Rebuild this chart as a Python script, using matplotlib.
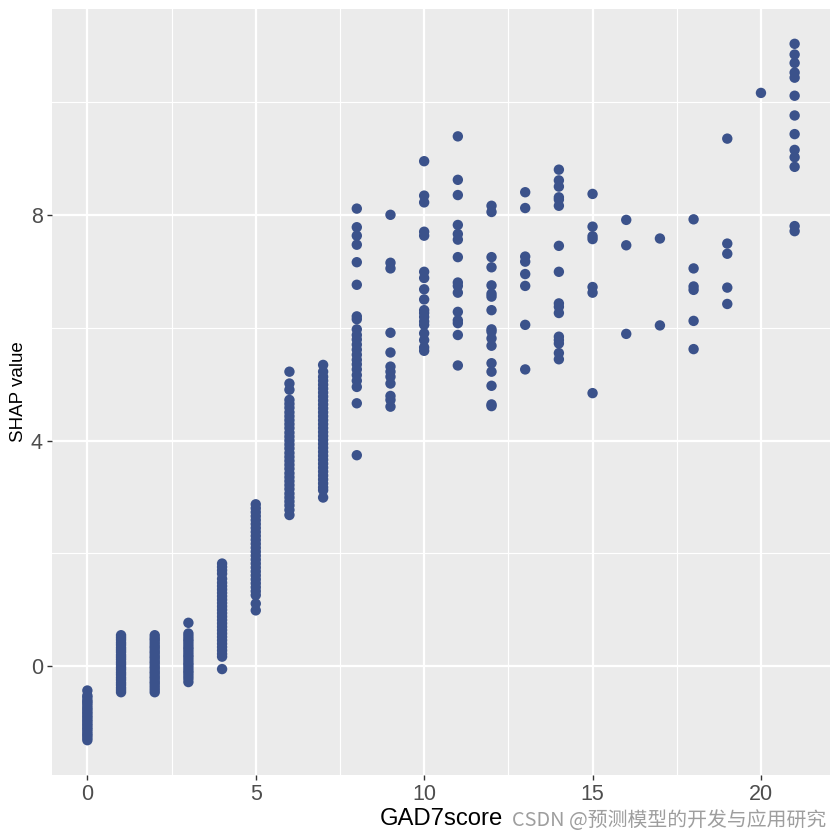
import matplotlib
matplotlib.use("Agg")
import matplotlib.pyplot as plt
from matplotlib.ticker import FixedLocator

# ---- data: SHAP value of GAD7score for each observed score ----
s0 = [-0.43, -0.52, -0.55, -0.6, -0.63, -0.66, -0.7, -0.74, -0.77, -0.81, -0.84, -0.88,
      -0.91, -0.95, -0.98, -1.02, -1.05, -1.09, -1.12, -1.16, -1.2, -1.23, -1.27, -1.31]
s1 = [0.55, 0.51, 0.47, 0.42, 0.38, 0.33, 0.29, 0.25, 0.2, 0.16, 0.12, 0.07, 0.03,
      -0.02, -0.06, -0.11, -0.15, -0.2, -0.24, -0.29, -0.33, -0.38, -0.42, -0.46]
s2 = [0.55, 0.5, 0.46, 0.41, 0.36, 0.32, 0.27, 0.23, 0.18, 0.14, 0.09, 0.05, 0.0,
      -0.04, -0.09, -0.13, -0.18, -0.22, -0.27, -0.31, -0.36, -0.41, -0.46]
s3 = [0.77, 0.58, 0.53, 0.48, 0.44, 0.39, 0.34, 0.3, 0.25, 0.2, 0.16, 0.11, 0.06, 0.02,
      -0.03, -0.08, -0.12, -0.17, -0.22, -0.28]
s4 = [1.82, 1.76, 1.7, 1.64, 1.55, 1.48, 1.42, 1.36, 1.3, 1.24, 1.18, 1.12, 1.06, 1.0,
      0.94, 0.88, 0.82, 0.76, 0.7, 0.64, 0.58, 0.52, 0.46, 0.4, 0.34, 0.28, 0.22, 0.17, -0.05]
s5 = [2.87, 2.8, 2.73, 2.66, 2.59, 2.52, 2.45, 2.38, 2.31, 2.24, 2.17, 2.1, 2.03, 1.96,
      1.89, 1.82, 1.75, 1.68, 1.61, 1.54, 1.47, 1.4, 1.33, 1.26, 1.11, 0.99]
s6 = [5.22, 5.01, 4.9, 4.72, 4.65, 4.58, 4.5, 4.43, 4.36, 4.29, 4.22, 4.14, 4.07, 4.0,
      3.93, 3.86, 3.78, 3.71, 3.64, 3.57, 3.5, 3.42, 3.35, 3.28, 3.21, 3.14, 3.06, 2.99,
      2.92, 2.85, 2.77, 2.68]
s7 = [5.34, 5.22, 5.13, 5.06, 4.99, 4.92, 4.85, 4.78, 4.71, 4.64, 4.57, 4.5, 4.43, 4.36,
      4.29, 4.22, 4.15, 4.08, 4.01, 3.94, 3.87, 3.8, 3.73, 3.66, 3.59, 3.52, 3.45, 3.38,
      3.31, 3.24, 3.17, 3.12, 2.99]
s8 = [8.11, 7.78, 7.63, 7.47, 7.16, 6.76, 6.2, 6.15, 5.97, 5.87, 5.79, 5.7, 5.61, 5.52,
      5.43, 5.35, 5.26, 5.16, 5.06, 4.95, 4.66, 3.74]
s9 = [8.0, 7.15, 7.05, 5.91, 5.56, 5.31, 5.22, 5.13, 5.01, 4.79, 4.72, 4.6]
s10 = [8.95, 8.34, 8.22, 7.7, 7.63, 6.99, 6.88, 6.68, 6.5, 6.31, 6.26, 6.19, 6.11, 6.05,
       5.9, 5.78, 5.65, 5.59]
s11 = [9.39, 8.62, 8.35, 7.82, 7.66, 7.56, 7.25, 6.8, 6.74, 6.62, 6.28, 6.13, 6.08, 5.87, 5.33]
s12 = [8.16, 8.05, 7.25, 7.07, 6.75, 6.6, 6.55, 6.31, 5.97, 5.93, 5.81, 5.68, 5.37, 5.22,
       4.97, 4.64, 4.61]
s13 = [8.4, 8.12, 7.26, 7.17, 6.95, 6.74, 6.05, 5.26]
s14 = [8.8, 8.61, 8.5, 8.31, 8.27, 8.16, 7.45, 6.99, 6.43, 6.37, 6.26, 5.84, 5.78, 5.72,
       5.55, 5.44]
s15 = [8.37, 7.79, 7.62, 7.57, 6.72, 6.62, 4.84]
s16 = [7.91, 7.46, 5.89]
s17 = [7.58, 6.04]
s18 = [7.92, 7.05, 6.73, 6.67, 6.12, 5.62]
s19 = [9.35, 7.49, 7.31, 6.71, 6.42]
s20 = [10.16]
s21 = [11.03, 10.84, 10.69, 10.52, 10.43, 10.11, 9.76, 9.43, 9.15, 9.02, 8.85, 7.8, 7.71]

scores = list(range(22))
shap_lists = [s0, s1, s2, s3, s4, s5, s6, s7, s8, s9, s10, s11, s12, s13, s14, s15,
              s16, s17, s18, s19, s20, s21]

x_ticks = [0, 5, 10, 15, 20]
y_ticks = [0, 4, 8]

xs, ys = [], []
for sc, vals in zip(scores, shap_lists):
    xs.extend([sc] * len(vals))
    ys.extend(vals)

# ---- figure ----
fig = plt.figure(figsize=(8.4, 8.4), dpi=100)
W, H = 840, 840
left, right, top, bottom = 52, 830, 9, 775
ax = fig.add_axes([left / W, 1 - bottom / H, (right - left) / W, (bottom - top) / H])

ax.set_facecolor("#EBEBEB")
for sp in ax.spines.values():
    sp.set_visible(False)

ax.scatter(xs, ys, s=56, color="#3B528B", edgecolors="none", zorder=3)

xmin, xmax = min(xs), max(xs)
ymin, ymax = min(ys), max(ys)
ax.set_xlim(xmin - 0.05 * (xmax - xmin), xmax + 0.05 * (xmax - xmin))
ax.set_ylim(ymin - 0.05 * (ymax - ymin), ymax + 0.05 * (ymax - ymin))

ax.xaxis.set_major_locator(FixedLocator(x_ticks))
ax.yaxis.set_major_locator(FixedLocator(y_ticks))
ax.xaxis.set_minor_locator(FixedLocator([2.5, 7.5, 12.5, 17.5]))
ax.yaxis.set_minor_locator(FixedLocator([2, 6, 10]))

ax.grid(which="major", color="white", linewidth=1.6, zorder=0)
ax.grid(which="minor", color="white", linewidth=0.8, zorder=0)
ax.set_axisbelow(True)

ax.tick_params(which="major", length=3.5, width=1.0, color="#333333",
               labelcolor="#4D4D4D", labelsize=15.5, pad=3)
ax.tick_params(which="minor", length=0)
for lab in ax.get_xticklabels() + ax.get_yticklabels():
    lab.set_family("Liberation Sans")

ax.set_xlabel("GAD7score", fontsize=17.2, family="Liberation Sans", color="black", labelpad=2)
ax.set_ylabel("SHAP value", fontsize=13.5, family="Liberation Sans", color="black", labelpad=3)

fig.text(826 / W, 1 - 820 / H, "CSDN @预测模型的开发与应用研究", ha="right", va="center",
         fontsize=14.3, color="#9E9E9E", family=["Noto Sans CJK SC", "DejaVu Sans"])

fig.savefig("out.png", dpi=100, facecolor="white")
